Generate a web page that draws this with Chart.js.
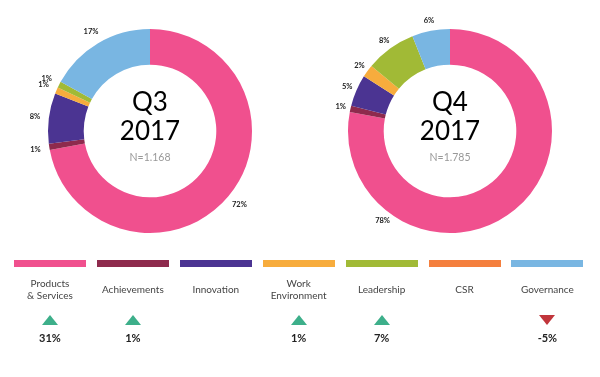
<!DOCTYPE html>
<html>
<head>
<meta charset="utf-8">
<script src="https://cdn.jsdelivr.net/npm/chart.js@4"></script>
<style>
  html, body { margin: 0; padding: 0; background: #fff; }
  body { width: 600px; height: 377px; position: relative; overflow: hidden; font-family: Lato, "Open Sans", sans-serif; }
  .chartbox { position: absolute; top: 0; width: 300px; height: 250px; }
  #legend { position: absolute; left: 0; top: 0; width: 600px; height: 377px; pointer-events: none; }
  .col { position: absolute; width: 72px; }
  .bar { position: absolute; top: 260px; left: 0; width: 72px; height: 7px; }
  .lbl { position: absolute; top: 277px; left: -14px; width: 100px; height: 24px; display: flex; align-items: center; justify-content: center; text-align: center; font-size: 10px; line-height: 12px; color: #444; white-space: pre-line; }
  .tri { position: absolute; top: 315px; left: 28px; width: 0; height: 0; border-left: 8px solid transparent; border-right: 8px solid transparent; }
  .up { border-bottom: 10px solid #3daf8a; }
  .down { border-top: 10px solid #c1353b; }
  .chg { position: absolute; top: 331px; left: -14px; width: 100px; text-align: center; font-size: 11px; font-weight: bold; color: #222; line-height: 14px; }
</style>
</head>
<body>
<div class="chartbox" style="left:0"><canvas id="c1" width="300" height="250"></canvas></div>
<div class="chartbox" style="left:300px"><canvas id="c2" width="300" height="250"></canvas></div>
<div id="legend"></div>
<script>
// ---- Data ----
const categories = ["Products\n& Services", "Achievements", "Innovation", "Work\nEnvironment", "Leadership", "CSR", "Governance"];
const q3Values = [72, 1, 8, 1, 1, 0, 17];
const q4Values = [78, 1, 5, 2, 8, 0, 6];
const changeValues = [31, 1, null, 1, 7, null, -5];
const q3Title = ["Q3", "2017"];
const q4Title = ["Q4", "2017"];
const q3N = "N=1.168";
const q4N = "N=1.785";
const colors = ["#f0508e", "#8e2a4d", "#4b3492", "#f7ac3d", "#a1ba36", "#f47f3e", "#79b6e2"];

// ---- Plugin: center text + outside percentage labels ----
const donutText = {
  id: 'donutText',
  afterDatasetsDraw(chart, args, opts) {
    const ctx = chart.ctx;
    const meta = chart.getDatasetMeta(0);
    const arc0 = meta.data[0];
    const cx = arc0.x, cy = arc0.y;
    const outer = arc0.outerRadius;
    ctx.save();
    ctx.textAlign = 'center';
    ctx.textBaseline = 'middle';
    ctx.fillStyle = '#000';
    ctx.font = '26px Lato, "Open Sans", sans-serif';
    ctx.fillText(opts.title[0], cx, cy - 28);
    ctx.fillText(opts.title[1], cx, cy + 1);
    ctx.fillStyle = '#999';
    ctx.font = '10.5px Lato, "Open Sans", sans-serif';
    ctx.fillText(opts.n, cx, cy + 27);
    // percentage labels
    ctx.fillStyle = '#222';
    ctx.font = 'bold 7.5px Lato, "Liberation Sans Narrow", sans-serif';
    const data = chart.data.datasets[0].data;
    meta.data.forEach((arc, i) => {
      if (!data[i]) return;
      let ang = (arc.startAngle + arc.endAngle) / 2;
      if (opts.angleOverride && opts.angleOverride[i] !== undefined) {
        ang = opts.angleOverride[i] * Math.PI / 180 - Math.PI / 2;
      }
      const r = outer + opts.labelGap;
      ctx.fillText(data[i] + '%', cx + r * Math.cos(ang), cy + r * Math.sin(ang));
    });
    ctx.restore();
  }
};

function makeChart(id, values, title, n, gap, override) {
  return new Chart(document.getElementById(id), {
    type: 'doughnut',
    data: {
      labels: categories,
      datasets: [{ data: values, backgroundColor: colors, borderWidth: 0 }]
    },
    options: {
      responsive: false,
      animation: false,
      cutout: '65%',
      layout: { padding: { top: 29, bottom: 17 } },
      plugins: {
        legend: { display: false },
        tooltip: { enabled: false },
        donutText: { title: title, n: n, labelGap: gap, angleOverride: override }
      }
    },
    plugins: [donutText]
  });
}

makeChart('c1', q3Values, q3Title, q3N, 14, null);
makeChart('c2', q4Values, q4Title, q4N, 10, { 0: 217 });

// ---- Legend & change indicators ----
const legend = document.getElementById('legend');
categories.forEach((cat, i) => {
  const col = document.createElement('div');
  col.className = 'col';
  col.style.left = (14 + i * 82.9) + 'px';
  const bar = document.createElement('div');
  bar.className = 'bar';
  bar.style.background = colors[i];
  col.appendChild(bar);
  const lbl = document.createElement('div');
  lbl.className = 'lbl';
  lbl.textContent = cat;
  col.appendChild(lbl);
  const v = changeValues[i];
  if (v !== null) {
    const tri = document.createElement('div');
    tri.className = 'tri ' + (v >= 0 ? 'up' : 'down');
    col.appendChild(tri);
    const chg = document.createElement('div');
    chg.className = 'chg';
    chg.textContent = v + '%';
    col.appendChild(chg);
  }
  legend.appendChild(col);
});
</script>
</body>
</html>
